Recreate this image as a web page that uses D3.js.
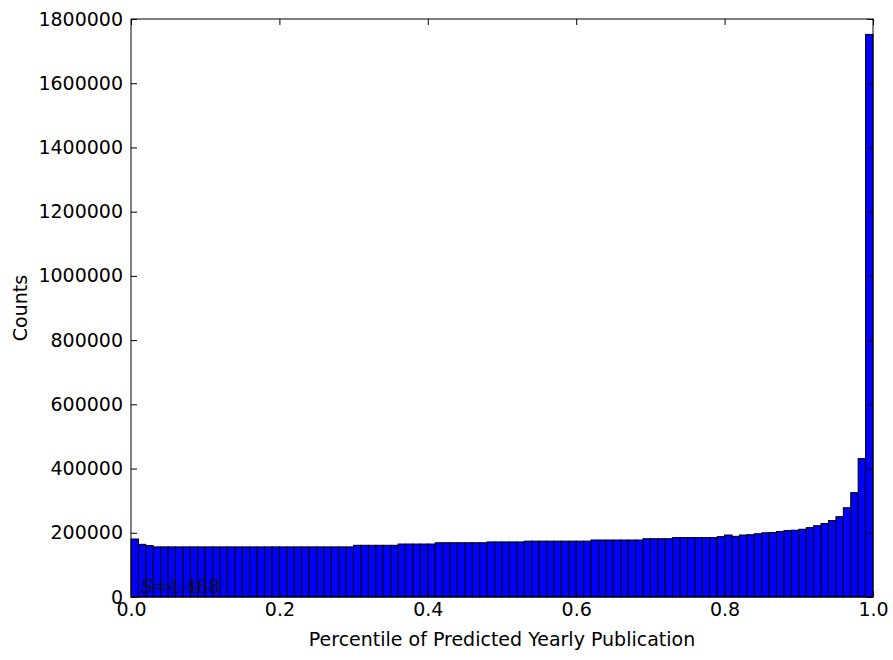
<!DOCTYPE html>
<html>
<head>
<meta charset="utf-8">
<script src="https://cdn.jsdelivr.net/npm/d3@7"></script>
<style>
  body { margin: 0; background: #fff; }
  text { font-family: "DejaVu Sans", sans-serif; fill: #000; }
</style>
</head>
<body>
<div id="chart"></div>
<script>
// histogram counts, 100 equal bins over [0, 1]
let binCounts = [
    180600, 164000, 160000, 156000, 156000, 156000, 156000, 156000, 156000, 156000,
    156000, 156000, 156000, 156000, 156000, 156000, 156000, 156000, 156000, 156000,
    156000, 156000, 156000, 156000, 156000, 156000, 156000, 156000, 156000, 156000,
    161000, 161000, 161000, 161000, 161000, 161000, 165000, 165000, 165000, 165000,
    165000, 169000, 169000, 169000, 169000, 169000, 169000, 169000, 171500, 171500,
    171500, 171500, 171500, 174000, 174000, 174000, 174000, 174000, 174000, 174000,
    174000, 174000, 177500, 177500, 177500, 177500, 177500, 177500, 177500, 181500,
    181500, 181500, 181500, 185000, 185000, 185000, 185000, 185000, 185000, 188000,
    193000, 189000, 193000, 194000, 197000, 200000, 201000, 204000, 207000, 208000,
    211000, 216000, 222000, 229000, 238000, 250000, 278000, 325000, 431000, 1752000
];
let xTicks = [0, 0.2, 0.4, 0.6, 0.8, 1.0];
let yTicks = [0, 200000, 400000, 600000, 800000, 1000000, 1200000, 1400000, 1600000, 1800000];
let annotation = '4.468';

let width = 893,
    height = 660,
    margin = {left: 131, top: 19, right: 20, bottom: 63},
    plotWidth = width - margin.left - margin.right,
    plotHeight = height - margin.top - margin.bottom,
    tickLen = 6,
    fontSize = '19px';

let svg = d3.select('#chart').append('svg')
    .attr('width', width)
    .attr('height', height);

let g = svg.append('g')
    .attr('transform', `translate(${margin.left}, ${margin.top})`);

let xScale = d3.scaleLinear()
    .domain([0, 1])
    .range([0, plotWidth]);

let yScale = d3.scaleLinear()
    .domain([0, 1800000])
    .range([plotHeight, 0]);

let binWidth = 1 / binCounts.length;

g.append('g')
    .selectAll('rect')
    .data(binCounts)
    .join('rect')
    .attr('x', (d, i) => xScale(i * binWidth))
    .attr('y', d => yScale(d))
    .attr('width', (d, i) => xScale((i + 1) * binWidth) - xScale(i * binWidth))
    .attr('height', d => yScale(0) - yScale(d))
    .attr('fill', '#0000ff')
    .attr('stroke', '#000')
    .attr('stroke-width', 1);

// annotation in the lower left corner
let note = g.append('text')
    .attr('x', 10)
    .attr('y', plotHeight - 4)
    .style('font-family', '"DejaVu Serif", "Liberation Serif", serif')
    .style('font-size', '18px')
    .style('fill', '#111');
note.append('tspan').style('font-style', 'italic').text('S');
note.append('tspan').text('=' + annotation);

// inward ticks on all four sides (classic style)
let xAxisBottom = d3.axisBottom(xScale).tickValues(xTicks).tickSizeInner(-tickLen).tickSizeOuter(0)
    .tickPadding(6).tickFormat(d3.format('.1f'));
let xAxisTop = d3.axisTop(xScale).tickValues(xTicks).tickSizeInner(-tickLen).tickSizeOuter(0).tickFormat('');
let yAxisLeft = d3.axisLeft(yScale).tickValues(yTicks).tickSizeInner(-tickLen).tickSizeOuter(0)
    .tickPadding(8).tickFormat(d3.format('d'));
let yAxisRight = d3.axisRight(yScale).tickValues(yTicks).tickSizeInner(-tickLen).tickSizeOuter(0).tickFormat('');

function styleAxis(sel) {
    sel.select('.domain').remove();
    sel.selectAll('line').attr('stroke', '#000');
    sel.selectAll('text').style('font-size', fontSize).style('font-family', '"DejaVu Sans", sans-serif');
}

g.append('g').attr('transform', `translate(0, ${plotHeight})`).call(xAxisBottom).call(styleAxis);
g.append('g').call(xAxisTop).call(styleAxis);
g.append('g').call(yAxisLeft).call(styleAxis);
g.append('g').attr('transform', `translate(${plotWidth}, 0)`).call(yAxisRight).call(styleAxis);

g.append('rect')
    .attr('width', plotWidth)
    .attr('height', plotHeight)
    .attr('fill', 'none')
    .attr('stroke', '#000')
    .attr('stroke-width', 1);

svg.append('text')
    .attr('x', margin.left + plotWidth / 2)
    .attr('y', 646)
    .attr('text-anchor', 'middle')
    .style('font-size', fontSize)
    .text('Percentile of Predicted Yearly Publication');

svg.append('text')
    .attr('transform', `translate(27, ${margin.top + plotHeight / 2}) rotate(-90)`)
    .attr('text-anchor', 'middle')
    .style('font-size', fontSize)
    .text('Counts');
</script>
</body>
</html>
